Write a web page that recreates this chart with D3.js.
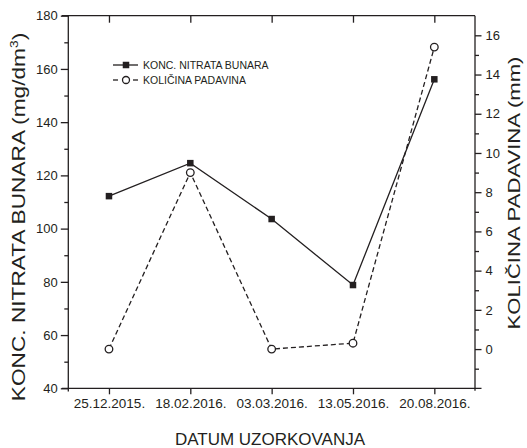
<!DOCTYPE html>
<html>
<head>
<meta charset="utf-8">
<script src="https://cdn.jsdelivr.net/npm/d3@7"></script>
<style>
  html, body { margin: 0; padding: 0; background: #fff; }
  svg { display: block; font-family: "Liberation Sans", Arial, sans-serif; }
</style>
</head>
<body>
<svg id="chart" width="527" height="448"></svg>
<script>
const dates = ["25.12.2015.", "18.02.2016.", "03.03.2016.", "13.05.2016.", "20.08.2016."];
const nitrate = [112.2, 124.6, 103.6, 78.8, 156.1];
const rainfall = [0, 9.0, 0, 0.3, 15.4];
const leftTicks = [40, 60, 80, 100, 120, 140, 160, 180];
const leftMinor = [50, 70, 90, 110, 130, 150, 170];
const rightTicks = [0, 2, 4, 6, 8, 10, 12, 14, 16];
const rightMinor = [-1, 1, 3, 5, 7, 9, 11, 13, 15];
const seriesNames = ["KONC. NITRATA BUNARA", "KOLIČINA PADAVINA"];

const svg = d3.select("#chart");
const L = 68.3, R = 475, T = 15.7, B = 388.3;
const ink = "#231f20";

const x = d3.scalePoint().domain(dates).range([L, R]).padding(0.5);
const yL = d3.scaleLinear().domain([40, 180]).range([B, T]);
const yR = d3.scaleLinear().domain([-2, 17]).range([B, T]);

const styleAxis = g => {
  g.selectAll("path, line").attr("stroke", ink).attr("stroke-width", 1.3);
  g.selectAll("text").attr("fill", ink);
};

// bottom axis
svg.append("g").attr("transform", `translate(0,${B})`)
  .call(d3.axisBottom(x).tickSize(6).tickSizeOuter(0).tickPadding(4))
  .call(g => g.select(".domain").remove())
  .call(g => g.selectAll("text").attr("font-size", 13.5).attr("font-family", "Liberation Sans, Arial"))
  .call(styleAxis);
// top axis (inward ticks)
svg.append("g").attr("transform", `translate(0,${T})`)
  .call(d3.axisBottom(x).tickSize(7).tickSizeOuter(0).tickFormat(""))
  .call(g => g.select(".domain").remove())
  .call(styleAxis);

// frame lines
const frame = [
  [[L - 6.5, B], [R + 6.5, B]],
  [[L - 6.5, T], [R, T]],
  [[L, T], [L, B + 3.3]],
  [[R, T], [R, B + 2.5]]
];
svg.append("g").selectAll("line").data(frame).join("line")
  .attr("x1", d => d[0][0]).attr("y1", d => d[0][1])
  .attr("x2", d => d[1][0]).attr("y2", d => d[1][1])
  .attr("stroke", ink).attr("stroke-width", 1.3);

// left axis
svg.append("g").attr("transform", `translate(${L},0)`)
  .call(d3.axisLeft(yL).tickValues(leftTicks).tickSize(7.5).tickPadding(3))
  .call(g => g.select(".domain").remove())
  .call(g => g.selectAll("text").attr("font-size", 13))
  .call(styleAxis);
svg.append("g").attr("transform", `translate(${L},0)`)
  .call(d3.axisLeft(yL).tickValues(leftMinor).tickSize(4).tickFormat(""))
  .call(g => g.select(".domain").remove())
  .call(styleAxis);

// right axis
svg.append("g").attr("transform", `translate(${R},0)`)
  .call(d3.axisRight(yR).tickValues(rightTicks).tickSize(6.5).tickPadding(4))
  .call(g => g.select(".domain").remove())
  .call(g => g.selectAll("text").attr("font-size", 13))
  .call(styleAxis);
svg.append("g").attr("transform", `translate(${R},0)`)
  .call(d3.axisRight(yR).tickValues(rightMinor).tickSize(4).tickFormat(""))
  .call(g => g.select(".domain").remove())
  .call(styleAxis);

// axis titles
const lt = svg.append("text")
  .attr("transform", `translate(25,217) rotate(-90) scale(1.26,1)`)
  .attr("text-anchor", "middle").attr("font-size", 18).attr("fill", ink);
lt.append("tspan").text("KONC. NITRATA BUNARA (mg/dm");
lt.append("tspan").attr("font-size", 11).attr("dy", -7).text("3");
lt.append("tspan").attr("dy", 7).text(")");
svg.append("text")
  .attr("transform", `translate(520,193) rotate(-90) scale(1.3,1)`)
  .attr("text-anchor", "middle").attr("font-size", 17).attr("fill", ink)
  .text("KOLIČINA PADAVINA (mm)");
svg.append("text")
  .attr("x", 270).attr("y", 445)
  .attr("text-anchor", "middle").attr("font-size", 17).attr("fill", ink)
  .text("DATUM UZORKOVANJA");

// series lines
const lineN = d3.line().x((d, i) => x(dates[i])).y(d => yL(d));
const lineR = d3.line().x((d, i) => x(dates[i])).y(d => yR(d));
svg.append("path").datum(nitrate).attr("d", lineN)
  .attr("fill", "none").attr("stroke", ink).attr("stroke-width", 1.3);
svg.append("path").datum(rainfall).attr("d", lineR)
  .attr("fill", "none").attr("stroke", ink).attr("stroke-width", 1.3)
  .attr("stroke-dasharray", "5,3");

// markers
const sq = 6.5;
svg.append("g").selectAll("rect").data(nitrate).join("rect")
  .attr("x", (d, i) => x(dates[i]) - sq / 2).attr("y", d => yL(d) - sq / 2)
  .attr("width", sq).attr("height", sq).attr("fill", ink);
svg.append("g").selectAll("circle").data(rainfall).join("circle")
  .attr("cx", (d, i) => x(dates[i])).attr("cy", d => yR(d)).attr("r", 3.8)
  .attr("fill", "#fff").attr("stroke", ink).attr("stroke-width", 1.3);

// legend
const lg = svg.append("g");
const lx0 = 113, lx1 = 138, lxm = 126, ly = [65, 80];
lg.append("line").attr("x1", lx0).attr("x2", lx1).attr("y1", ly[0]).attr("y2", ly[0])
  .attr("stroke", ink).attr("stroke-width", 1.3);
lg.append("rect").attr("x", lxm - sq / 2).attr("y", ly[0] - sq / 2).attr("width", sq).attr("height", sq).attr("fill", ink);
lg.append("line").attr("x1", lx0).attr("x2", lx0 + 5).attr("y1", ly[1]).attr("y2", ly[1])
  .attr("stroke", ink).attr("stroke-width", 1.3);
lg.append("line").attr("x1", lx1 - 5).attr("x2", lx1).attr("y1", ly[1]).attr("y2", ly[1])
  .attr("stroke", ink).attr("stroke-width", 1.3);
lg.append("circle").attr("cx", lxm).attr("cy", ly[1]).attr("r", 3.5)
  .attr("fill", "#fff").attr("stroke", ink).attr("stroke-width", 1.3);
lg.selectAll("text.lt").data(seriesNames).join("text").attr("class", "lt")
  .attr("x", 143).attr("y", (d, i) => ly[i] + 4)
  .attr("font-size", 10.5).attr("fill", ink).text(d => d);
</script>
</body>
</html>
